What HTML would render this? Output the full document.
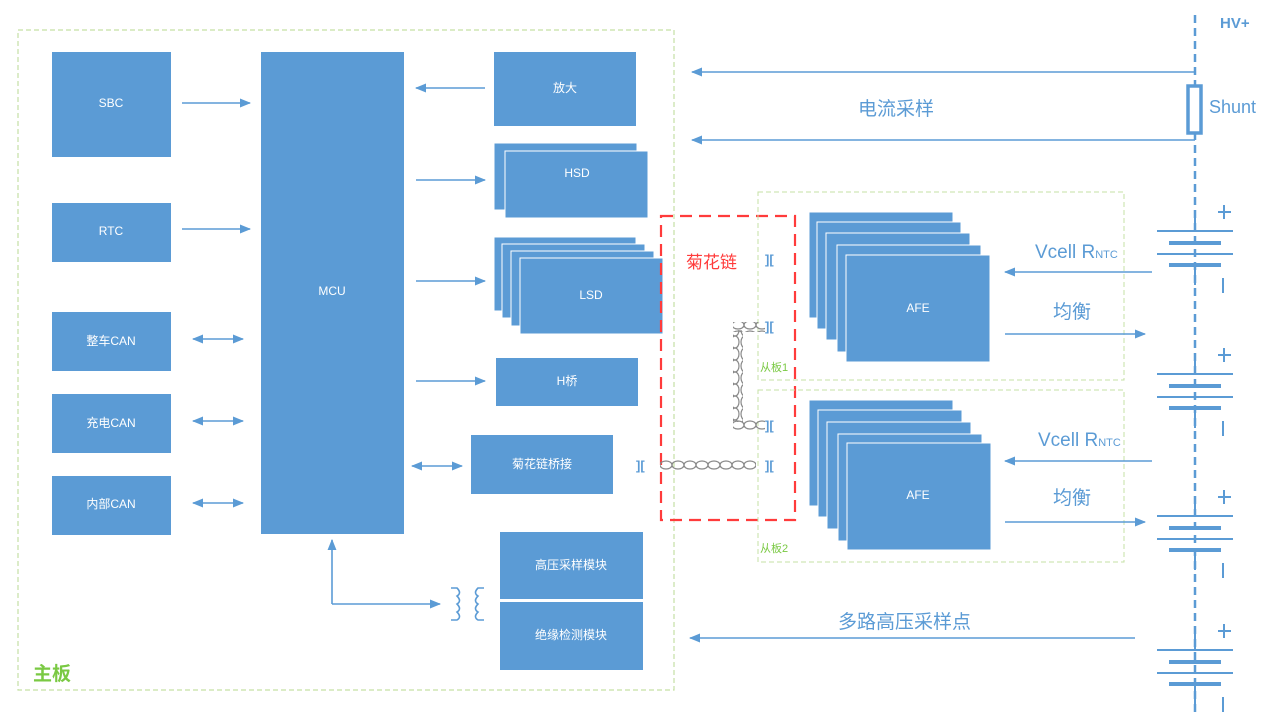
<!DOCTYPE html>
<html><head><meta charset="utf-8"><style>
body{margin:0;background:#fff}
svg{display:block}
text{font-family:"Liberation Sans","Noto Sans CJK SC",sans-serif}
.w{fill:#fff;font-size:12px;text-anchor:middle;dominant-baseline:middle}
.b{fill:#5B9BD5}
.ln{stroke:#5B9BD5;stroke-width:1.6;fill:none}
.bl{fill:#5B9BD5;font-size:19px}
</style></head><body>
<svg width="1264" height="714" viewBox="0 0 1264 714" xmlns="http://www.w3.org/2000/svg">
<defs>
<marker id="a" viewBox="0 0 10 10" refX="9" refY="5" markerWidth="7" markerHeight="7" orient="auto-start-reverse"><path d="M0,1 L10,5 L0,9 z" fill="#5B9BD5"/></marker>
<pattern id="ch" width="12" height="10" patternUnits="userSpaceOnUse"><ellipse cx="6" cy="5" rx="6" ry="4" fill="none" stroke="#888" stroke-width="1.2"/></pattern>
<pattern id="cv" width="10" height="12" patternUnits="userSpaceOnUse"><ellipse cx="5" cy="6" rx="4" ry="6" fill="none" stroke="#888" stroke-width="1.2"/></pattern>
</defs>
<!-- main board -->
<rect x="18" y="30" width="656" height="660" fill="none" stroke="#C5E0A5" stroke-width="1.2" stroke-dasharray="5,3"/>
<text x="33" y="680" fill="#7AC943" font-size="19" font-weight="bold">主板</text>
<rect class="b" x="52" y="52" width="119" height="105"/><text class="w" x="111" y="104">SBC</text>
<rect class="b" x="52" y="203" width="119" height="59"/><text class="w" x="111" y="232">RTC</text>
<rect class="b" x="52" y="312" width="119" height="59"/><text class="w" x="111" y="342">整车CAN</text>
<rect class="b" x="52" y="394" width="119" height="59"/><text class="w" x="111" y="424">充电CAN</text>
<rect class="b" x="52" y="476" width="119" height="59"/><text class="w" x="111" y="505">内部CAN</text>
<rect class="b" x="261" y="52" width="143" height="482"/><text class="w" x="332" y="292">MCU</text>
<rect class="b" x="494" y="52" width="142" height="74"/><text class="w" x="565" y="89">放大</text>
<rect class="b" x="494" y="143" width="143" height="67" stroke="#fff"/>
<rect class="b" x="505" y="151" width="143" height="67" stroke="#fff"/><text class="w" x="577" y="174">HSD</text>
<rect class="b" x="494" y="237" width="142" height="74" stroke="#fff"/>
<rect class="b" x="502" y="244" width="143" height="74" stroke="#fff"/>
<rect class="b" x="511" y="251" width="143" height="75" stroke="#fff"/>
<rect class="b" x="520" y="258" width="143" height="76" stroke="#fff"/><text class="w" x="591" y="296">LSD</text>
<rect class="b" x="496" y="358" width="142" height="48"/><text class="w" x="567" y="382">H桥</text>
<rect class="b" x="471" y="435" width="142" height="59"/><text class="w" x="542" y="465">菊花链桥接</text>
<rect class="b" x="500" y="532" width="143" height="67"/><text class="w" x="571" y="566">高压采样模块</text>
<rect class="b" x="500" y="602" width="143" height="68"/><text class="w" x="571" y="636">绝缘检测模块</text>
<!-- arrows main -->
<line class="ln" x1="182" y1="103" x2="250" y2="103" marker-end="url(#a)"/>
<line class="ln" x1="182" y1="229" x2="250" y2="229" marker-end="url(#a)"/>
<line class="ln" x1="193" y1="339" x2="243" y2="339" marker-start="url(#a)" marker-end="url(#a)"/>
<line class="ln" x1="193" y1="421" x2="243" y2="421" marker-start="url(#a)" marker-end="url(#a)"/>
<line class="ln" x1="193" y1="503" x2="243" y2="503" marker-start="url(#a)" marker-end="url(#a)"/>
<line class="ln" x1="485" y1="88" x2="416" y2="88" marker-end="url(#a)"/>
<line class="ln" x1="416" y1="180" x2="485" y2="180" marker-end="url(#a)"/>
<line class="ln" x1="416" y1="281" x2="485" y2="281" marker-end="url(#a)"/>
<line class="ln" x1="416" y1="381" x2="485" y2="381" marker-end="url(#a)"/>
<line class="ln" x1="412" y1="466" x2="462" y2="466" marker-start="url(#a)" marker-end="url(#a)"/>
<path class="ln" d="M332,604 L332,540" marker-end="url(#a)"/>
<path class="ln" d="M332,604 L440,604" marker-end="url(#a)"/>
<path class="ln" d="M451,588 h6 q5,5 0,8 q5,5 0,8 q5,5 0,8 q5,5 0,8 h-6 M484,588 h-6 q-5,5 0,8 q-5,5 0,8 q-5,5 0,8 q-5,5 0,8 h6"/>
<!-- daisy chain -->
<rect x="661" y="216" width="134" height="304" fill="none" stroke="#FF3B3B" stroke-width="2.2" stroke-dasharray="12,7"/>
<text x="686" y="268" fill="#FF3B3B" font-size="17">菊花链</text>
<rect x="758" y="192" width="366" height="188" fill="none" stroke="#C5E0A5" stroke-dasharray="5,3"/>
<rect x="758" y="390" width="366" height="172" fill="none" stroke="#C5E0A5" stroke-dasharray="5,3"/>
<text x="760" y="371" fill="#7AC943" font-size="11">从板1</text>
<text x="760" y="552" fill="#7AC943" font-size="11">从板2</text>
<rect x="660" y="460" width="96" height="10" fill="url(#ch)"/>
<rect x="733" y="330" width="10" height="92" fill="url(#cv)"/>
<rect x="733" y="322" width="32" height="10" fill="url(#ch)"/>
<rect x="733" y="420" width="32" height="10" fill="url(#ch)"/>
<g font-size="13" fill="#5B9BD5" font-weight="bold">
<text x="765" y="264">][</text><text x="765" y="331">][</text><text x="765" y="430">][</text><text x="765" y="470">][</text><text x="636" y="470">][</text>
</g>
<!-- AFE stacks -->
<g stroke="#fff" class="b">
<rect x="809" y="212" width="144" height="106"/><rect x="817" y="222" width="144" height="107"/><rect x="826" y="233" width="144" height="107"/><rect x="837" y="245" width="144" height="107"/><rect x="846" y="255" width="144" height="107"/>
<rect x="809" y="400" width="144" height="106"/><rect x="818" y="410" width="144" height="107"/><rect x="827" y="422" width="144" height="107"/><rect x="838" y="434" width="144" height="107"/><rect x="847" y="443" width="144" height="107"/>
</g>
<text class="w" x="918" y="309">AFE</text><text class="w" x="918" y="496">AFE</text>
<!-- right side -->
<line x1="1195" y1="15" x2="1195" y2="714" stroke="#5B9BD5" stroke-width="2.5" stroke-dasharray="8,5"/>
<text x="1220" y="28" fill="#5B9BD5" font-size="15" font-weight="bold">HV+</text>
<rect x="1188" y="86" width="13" height="47" fill="#fff" stroke="#5B9BD5" stroke-width="3.5"/>
<text x="1209" y="113" fill="#5B9BD5" font-size="18">Shunt</text>
<line class="ln" x1="1195" y1="72" x2="692" y2="72" marker-end="url(#a)"/>
<line class="ln" x1="1195" y1="140" x2="692" y2="140" marker-end="url(#a)"/>
<text class="bl" x="858" y="115">电流采样</text>
<text class="bl" x="1035" y="258">Vcell R<tspan font-size="11">NTC</tspan></text>
<line class="ln" x1="1152" y1="272" x2="1005" y2="272" marker-end="url(#a)"/>
<text class="bl" x="1053" y="318">均衡</text>
<line class="ln" x1="1005" y1="334" x2="1145" y2="334" marker-end="url(#a)"/>
<text class="bl" x="1038" y="446">Vcell  R<tspan font-size="11">NTC</tspan></text>
<line class="ln" x1="1152" y1="461" x2="1005" y2="461" marker-end="url(#a)"/>
<text class="bl" x="1053" y="504">均衡</text>
<line class="ln" x1="1005" y1="522" x2="1145" y2="522" marker-end="url(#a)"/>
<text class="bl" x="838" y="628">多路高压采样点</text>
<line class="ln" x1="1135" y1="638" x2="690" y2="638" marker-end="url(#a)"/>
<g stroke="#5B9BD5" fill="none" stroke-width="2">
<g id="bat1"><line x1="1195" y1="211" x2="1195" y2="231"/><line x1="1157" y1="231" x2="1233" y2="231"/><line x1="1169" y1="243" x2="1221" y2="243" stroke-width="4"/><line x1="1157" y1="254" x2="1233" y2="254"/><line x1="1169" y1="265" x2="1221" y2="265" stroke-width="4"/><line x1="1195" y1="265" x2="1195" y2="285"/><path d="M1218,212h13M1224,205v14M1223,278v15"/></g>
<use href="#bat1" y="143"/>
<use href="#bat1" y="285"/>
<use href="#bat1" y="419"/>
</g>
</svg>
</body></html>
